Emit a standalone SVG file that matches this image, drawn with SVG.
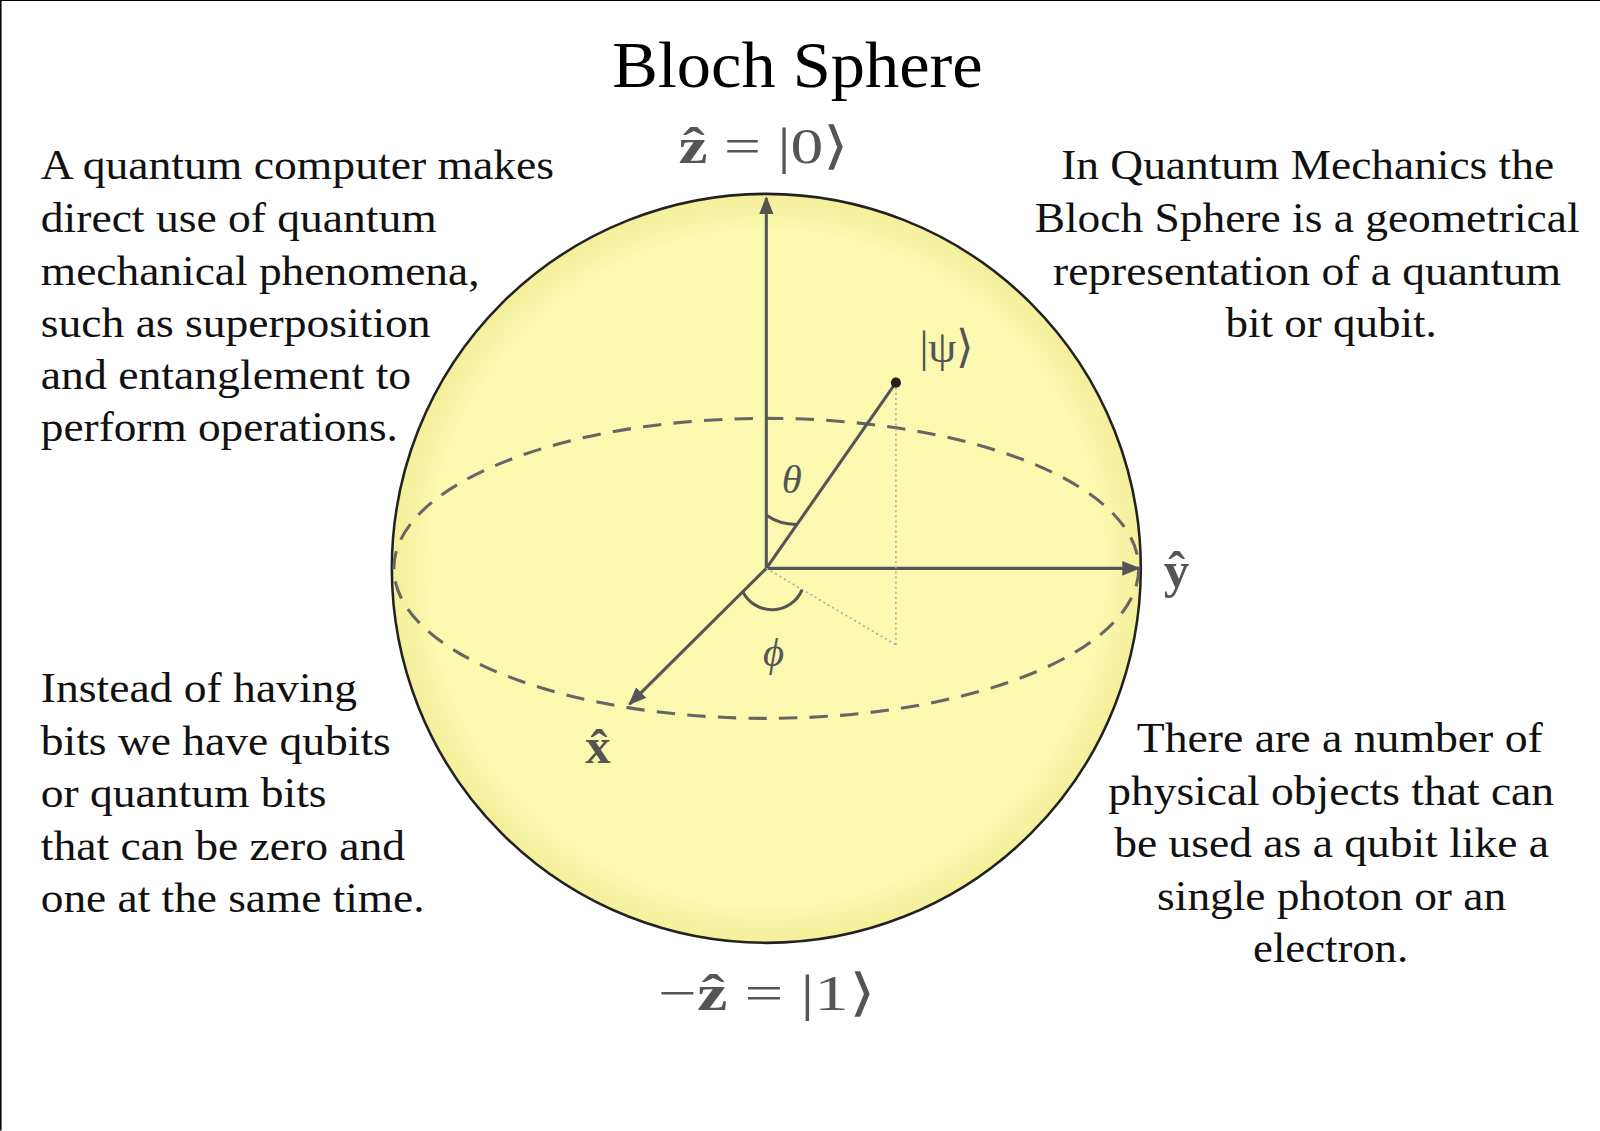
<svg xmlns="http://www.w3.org/2000/svg" width="1600" height="1131" viewBox="0 0 1600 1131">
<style>
.t{font-family:"Liberation Serif",serif;font-size:42px;fill:#111}
.m{font-family:"Liberation Serif",serif;fill:#555}
.ax{stroke:#555;stroke-width:3;fill:none}
</style>
<defs>
<marker id="ar" viewBox="0 0 10 10" refX="9" refY="5" markerWidth="6" markerHeight="6" orient="auto"><path d="M0,1 L10,5 L0,9 z" fill="#555"/></marker>
<radialGradient id="g" cx="0.5" cy="0.5" r="0.5"><stop offset="0.9" stop-color="#fbf8b0"/><stop offset="1" stop-color="#f4ef9a"/></radialGradient>
</defs>
<rect width="1600" height="1131" fill="#fff"/>
<g transform="scale(1.0204)">
<path d="M1568,0 H0.5 V1108" fill="none" stroke="#000" stroke-width="2"/>
<g id="sphere">
<circle cx="751" cy="557" r="367" fill="url(#g)" stroke="#222" stroke-width="2.5"/>
<ellipse cx="751" cy="557" rx="365" ry="147" fill="none" stroke="#666" stroke-width="3" stroke-dasharray="18,12"/>
</g>
<g id="connectors">
<line class="ax" x1="751" y1="557" x2="751" y2="194" marker-end="url(#ar)"/>
<line class="ax" x1="751" y1="557" x2="1116" y2="557" marker-end="url(#ar)"/>
<line class="ax" x1="751" y1="557" x2="617" y2="690" marker-end="url(#ar)"/>
<line class="ax" x1="751" y1="557" x2="878" y2="375"/>
<line x1="878" y1="375" x2="878" y2="632" stroke="#aaa" stroke-width="1.5" stroke-dasharray="2,3"/>
<line x1="751" y1="557" x2="878" y2="632" stroke="#aaa" stroke-width="1.5" stroke-dasharray="2,3"/>
<path d="M751,505 A52,52 0 0 0 781,514" class="ax" stroke-width="2"/>
<path d="M728,580 A32,32 0 0 0 786,578" class="ax" stroke-width="2"/>
<circle cx="878" cy="375" r="5" fill="#222"/>
</g>
<g id="labels">
<text class="m" x="665" y="160" font-size="50" textLength="167" lengthAdjust="spacingAndGlyphs"><tspan font-weight="bold">ẑ</tspan> = |0⟩</text>
<text class="m" x="645" y="990" font-size="50" textLength="213" lengthAdjust="spacingAndGlyphs">−<tspan font-weight="bold">ẑ</tspan> = |1⟩</text>
<text class="m" x="1153" y="575" font-size="50" font-weight="bold" text-anchor="middle">ŷ</text>
<text class="m" x="586" y="748" font-size="50" font-weight="bold" text-anchor="middle">x̂</text>
<text class="m" x="928" y="355" font-size="44" text-anchor="middle">|ψ⟩</text>
<text class="m" x="776" y="483" font-size="40" font-style="italic" text-anchor="middle">θ</text>
<text class="m" x="758" y="653" font-size="40" font-style="italic" text-anchor="middle">ϕ</text>
</g>
<text x="600" y="85" font-family="Liberation Serif,serif" font-size="64" textLength="363" lengthAdjust="spacingAndGlyphs" fill="#000">Bloch Sphere</text>
<g id="t1">
<text class="t" x="40" y="175" textLength="503" lengthAdjust="spacingAndGlyphs">A quantum computer makes</text>
<text class="t" x="40" y="227" textLength="388" lengthAdjust="spacingAndGlyphs">direct use of quantum</text>
<text class="t" x="40" y="279" textLength="430" lengthAdjust="spacingAndGlyphs">mechanical phenomena,</text>
<text class="t" x="40" y="330" textLength="382" lengthAdjust="spacingAndGlyphs">such as superposition</text>
<text class="t" x="40" y="381" textLength="363" lengthAdjust="spacingAndGlyphs">and entanglement to</text>
<text class="t" x="40" y="432" textLength="350" lengthAdjust="spacingAndGlyphs">perform operations.</text>
</g>
<g id="t2">
<text class="t" x="40" y="688" textLength="310" lengthAdjust="spacingAndGlyphs">Instead of having</text>
<text class="t" x="40" y="740" textLength="343" lengthAdjust="spacingAndGlyphs">bits we have qubits</text>
<text class="t" x="40" y="791" textLength="280" lengthAdjust="spacingAndGlyphs">or quantum bits</text>
<text class="t" x="40" y="843" textLength="357" lengthAdjust="spacingAndGlyphs">that can be zero and</text>
<text class="t" x="40" y="894" textLength="376" lengthAdjust="spacingAndGlyphs">one at the same time.</text>
</g>
<g id="t3">
<text class="t" x="1040" y="175" textLength="483" lengthAdjust="spacingAndGlyphs">In Quantum Mechanics the</text>
<text class="t" x="1014" y="227" textLength="534" lengthAdjust="spacingAndGlyphs">Bloch Sphere is a geometrical</text>
<text class="t" x="1032" y="279" textLength="498" lengthAdjust="spacingAndGlyphs">representation of a quantum</text>
<text class="t" x="1201" y="330" textLength="207" lengthAdjust="spacingAndGlyphs">bit or qubit.</text>
</g>
<g id="t4">
<text class="t" x="1114" y="737" textLength="398" lengthAdjust="spacingAndGlyphs">There are a number of</text>
<text class="t" x="1086" y="789" textLength="437" lengthAdjust="spacingAndGlyphs">physical objects that can</text>
<text class="t" x="1092" y="840" textLength="426" lengthAdjust="spacingAndGlyphs">be used as a qubit like a</text>
<text class="t" x="1134" y="892" textLength="342" lengthAdjust="spacingAndGlyphs">single photon or an</text>
<text class="t" x="1228" y="943" textLength="152" lengthAdjust="spacingAndGlyphs">electron.</text>
</g>
</g>
</svg>
